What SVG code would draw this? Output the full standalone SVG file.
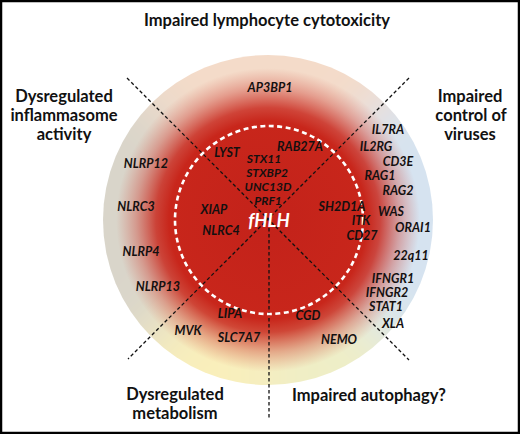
<svg xmlns="http://www.w3.org/2000/svg" width="520" height="434" viewBox="0 0 520 434">
<style>
.h{font-family:Lato,"Liberation Sans",sans-serif;font-weight:bold;font-size:16.5px;fill:#111;text-anchor:middle}
.g{font-family:Lato,"Liberation Sans",sans-serif;font-weight:bold;font-style:italic;font-size:12.5px;fill:#141010;text-anchor:middle}
.s{font-size:12px}
.c{font-family:Lato,"Liberation Sans",sans-serif;font-weight:bold;font-style:italic;font-size:18.5px;fill:#fff;text-anchor:middle}
.d{fill:none;stroke:#111;stroke-width:1.3;stroke-dasharray:3.5 2.5}
</style>
<defs>
<clipPath id="cc"><circle cx="268" cy="220" r="165"/></clipPath>
<filter id="bl" x="-50%" y="-50%" width="200%" height="200%"><feGaussianBlur stdDeviation="28"/></filter>
<radialGradient id="red" cx="268" cy="220" r="165" gradientUnits="userSpaceOnUse">
<stop offset="0" stop-color="#c3221a"/>
<stop offset="0.6" stop-color="#c8261b"/>
<stop offset="0.68" stop-color="#c9291e" stop-opacity="0.85"/>
<stop offset="0.8" stop-color="#cc3a2e" stop-opacity="0.38"/>
<stop offset="0.92" stop-color="#d05040" stop-opacity="0"/>
</radialGradient>
</defs>
<rect x="0" y="0" width="520" height="434" fill="#fff"/>
<g id="background-ring" clip-path="url(#cc)">
<g filter="url(#bl)">
<path d="M268 220 L518 -30 L518 470 Z" fill="#d6e3f0"/>
<path d="M268 220 L518 470 L268 470 Z" fill="#efeec6"/>
<path d="M268 220 L268 470 L18 470 Z" fill="#f9efbb"/>
<path d="M268 220 L18 470 L18 -30 Z" fill="#d9d5ca"/>
<path d="M268 220 L18 -30 L518 -30 Z" fill="#f4dbc9"/>
</g>
<circle cx="268" cy="220" r="165" fill="url(#red)"/>
</g>
<g id="connectors">
<line class="d" x1="127" y1="78" x2="409" y2="360"/>
<line class="d" x1="409" y1="78" x2="128" y2="359"/>
<line class="d" x1="269" y1="228" x2="269" y2="419"/>
</g>
<g id="fhlh-circle"><circle cx="269" cy="220" r="94" fill="none" stroke="#fff" stroke-width="2.6" stroke-dasharray="5 3.5"/></g>
<g id="cat-cytotoxicity"><text class="h" x="267" y="26">Impaired lymphocyte cytotoxicity</text></g>
<g id="cat-inflammasome"><text class="h" x="64" y="102">Dysregulated</text><text class="h" x="64" y="121">inflammasome</text><text class="h" x="64" y="140">activity</text></g>
<g id="cat-viruses"><text class="h" x="470" y="102">Impaired</text><text class="h" x="471" y="121">control of</text><text class="h" x="470" y="140">viruses</text></g>
<g id="cat-metabolism"><text class="h" x="175" y="400">Dysregulated</text><text class="h" x="175" y="419">metabolism</text></g>
<g id="cat-autophagy"><text class="h" x="369" y="401">Impaired autophagy?</text></g>
<g id="center"><text class="c" x="269" y="227">fHLH</text></g>
<g id="genes">
<text class="g" x="270" y="92">AP3BP1</text>
<text class="g" x="227" y="157">LYST</text>
<text class="g" x="300" y="151">RAB27A</text>
<text class="g s" x="264" y="163">STX11</text>
<text class="g s" x="267" y="177">STXBP2</text>
<text class="g s" x="268" y="191">UNC13D</text>
<text class="g s" x="268" y="205">PRF1</text>
<text class="g" x="214" y="214">XIAP</text>
<text class="g" x="221" y="235">NLRC4</text>
<text class="g" x="342" y="211">SH2D1A</text>
<text class="g" x="361" y="225">ITK</text>
<text class="g" x="362" y="240">CD27</text>
<text class="g" x="388" y="134">IL7RA</text>
<text class="g" x="376" y="151">IL2RG</text>
<text class="g" x="398" y="166">CD3E</text>
<text class="g" x="380" y="180">RAG1</text>
<text class="g" x="398" y="195">RAG2</text>
<text class="g" x="391" y="216">WAS</text>
<text class="g" x="413" y="232">ORAI1</text>
<text class="g" x="411" y="260">22q11</text>
<text class="g" x="393" y="283">IFNGR1</text>
<text class="g" x="387" y="297">IFNGR2</text>
<text class="g" x="386" y="311">STAT1</text>
<text class="g" x="393" y="328">XLA</text>
<text class="g" x="146" y="168">NLRP12</text>
<text class="g" x="136" y="211">NLRC3</text>
<text class="g" x="141" y="256">NLRP4</text>
<text class="g" x="158" y="291">NLRP13</text>
<text class="g" x="230" y="318">LIPA</text>
<text class="g" x="308" y="320">CGD</text>
<text class="g" x="188" y="335">MVK</text>
<text class="g" x="239" y="342">SLC7A7</text>
<text class="g" x="339" y="344">NEMO</text>
</g>
<rect x="1" y="1" width="518" height="432" fill="none" stroke="#000" stroke-width="2.5"/>
</svg>
